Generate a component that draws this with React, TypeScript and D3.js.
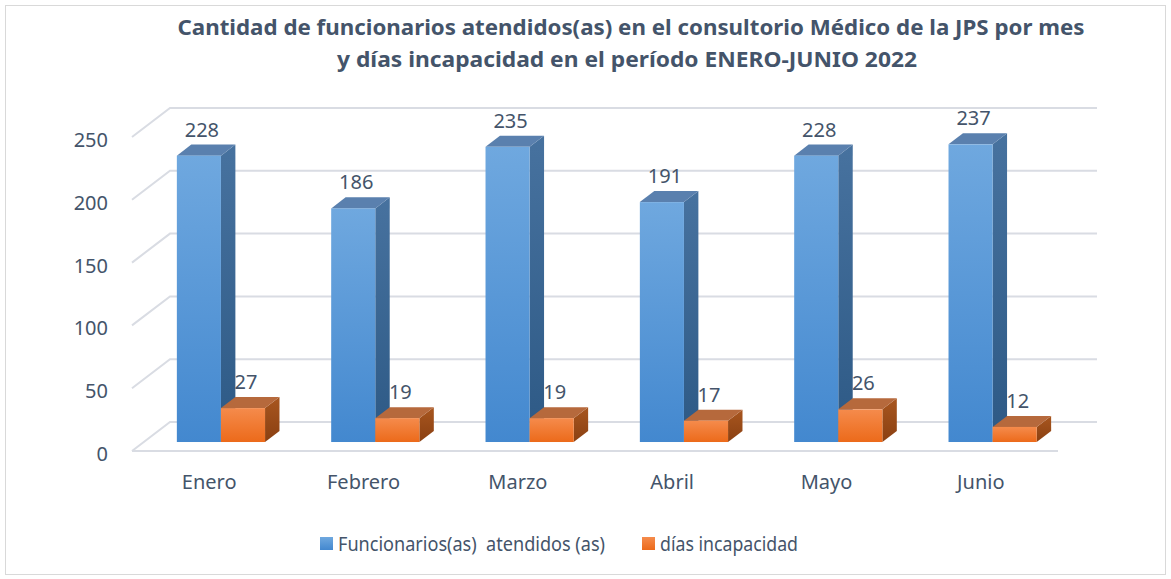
import * as d3 from "d3";

// Chart data
const months = ["Enero", "Febrero", "Marzo", "Abril", "Mayo", "Junio"];
const funcionarios = [228, 186, 235, 191, 228, 237];
const diasIncapacidad = [27, 19, 19, 17, 26, 12];
const yTicks = [0, 50, 100, 150, 200, 250];
const seriesNames = ["Funcionarios(as)  atendidos (as)", "días incapacidad"];
const titleLines = [
  "Cantidad de funcionarios atendidos(as) en el consultorio Médico de la JPS por mes",
  "y días incapacidad en el período ENERO-JUNIO 2022",
];

const W = 1171;
const H = 579;
const FONT = "'Noto Sans', 'Open Sans', sans-serif";
const TEXT = "#44546A";

// 3d floor layout
const frontLeft = 132;
const frontRight = 1058;
const floorFront = 451;
const depthX = 38;
const depthY = 29;
const barFront = 0.31;
const barBack = 0.69;

const colors = [
  { front: ["#6FA8DF", "#4388CF"], side: ["#47729F", "#2D5985"], top: "#5A80AE" },
  { front: ["#F58B4C", "#EC6A1A"], side: ["#A8561F", "#8A4012"], top: "#B6693C" },
];

export default function App() {
  const x = d3.scaleBand<string>().domain(months).range([frontLeft, frontRight]);
  const inner = d3
    .scaleBand<number>()
    .domain([0, 1])
    .range([0, x.bandwidth()])
    .paddingOuter(0.75);
  const y = d3.scaleLinear().domain([0, 250]).range([0, 314]);

  const ddx = (barBack - barFront) * depthX;
  const ddy = (barBack - barFront) * depthY;
  const series = [funcionarios, diasIncapacidad];

  const bars: JSX.Element[] = [];
  months.forEach((m, i) => {
    series.forEach((vals, s) => {
      const v = vals[i];
      const x0 = (x(m) ?? 0) + (inner(s) ?? 0) + barFront * depthX;
      const yb = floorFront - barFront * depthY;
      const w = inner.bandwidth();
      const h = y(v);
      const yt = yb - h;
      const side = [
        [x0 + w, yb],
        [x0 + w, yt],
        [x0 + w + ddx, yt - ddy],
        [x0 + w + ddx, yb - ddy],
      ];
      const top = [
        [x0, yt],
        [x0 + w, yt],
        [x0 + w + ddx, yt - ddy],
        [x0 + ddx, yt - ddy],
      ];
      bars.push(
        <g key={`${m}-${s}`}>
          <polygon points={side.join(" ")} fill={`url(#side${s})`} />
          <polygon points={top.join(" ")} fill={colors[s].top} />
          <rect x={x0} y={yt} width={w} height={h} fill={`url(#front${s})`} />
          <text
            x={x0 + w / 2 + 3}
            y={yt - ddy - 8}
            textAnchor="middle"
            fontSize={20}
            fill={TEXT}
          >
            {v}
          </text>
        </g>
      );
    });
  });

  return (
    <svg
      width={W}
      height={H}
      style={{ position: "absolute", left: 0, top: 0, background: "#fff" }}
      fontFamily={FONT}
    >
      <defs>
        {colors.map((c, s) => (
          <g key={s}>
            <linearGradient id={`front${s}`} x1="0" y1="0" x2="0" y2="1">
              <stop offset="0" stopColor={c.front[0]} />
              <stop offset="1" stopColor={c.front[1]} />
            </linearGradient>
            <linearGradient id={`side${s}`} x1="0" y1="0" x2="0" y2="1">
              <stop offset="0" stopColor={c.side[0]} />
              <stop offset="1" stopColor={c.side[1]} />
            </linearGradient>
          </g>
        ))}
      </defs>
      <rect x={5.5} y={5.5} width={W - 11} height={H - 10} fill="#fff" stroke="#D9D9D9" />

      {titleLines.map((t, i) => (
        <text
          key={i}
          x={631 - (i === 1 ? 4 : 0)}
          y={35 + i * 32}
          textAnchor="middle"
          fontSize={22}
          fontWeight="bold"
          fill={TEXT}
          textLength={i === 0 ? 907 : 580}
          lengthAdjust="spacingAndGlyphs"
        >
          {t}
        </text>
      ))}

      {/* gridlines */}
      {yTicks.map((t) => {
        const yf = floorFront - y(t);
        const yk = floorFront - depthY - y(t);
        return (
          <g key={t}>
            <polyline
              points={`${frontLeft},${yf} ${frontLeft + depthX},${yk} ${frontRight + depthX + 1},${yk}`}
              fill="none"
              stroke="#D9DCE3"
              strokeWidth={2}
            />
            <text x={108} y={yf + 10} textAnchor="end" fontSize={20} fill={TEXT}>
              {t}
            </text>
          </g>
        );
      })}
      <line
        x1={frontLeft}
        x2={frontRight}
        y1={floorFront}
        y2={floorFront}
        stroke="#D9DCE3"
        strokeWidth={2}
      />

      {bars}

      {months.map((m) => (
        <text
          key={m}
          x={(x(m) ?? 0) + x.bandwidth() / 2}
          y={489}
          textAnchor="middle"
          fontSize={20}
          fill={TEXT}
        >
          {m}
        </text>
      ))}

      {/* legend */}
      {seriesNames.map((n, s) => {
        const lx = s === 0 ? 320 : 642;
        return (
          <g key={n}>
            <rect x={lx} y={537} width={13} height={13} fill={`url(#front${s})`} />
            <text
              x={lx + 18}
              y={551}
              fontSize={20}
              fill={TEXT}
              style={{ whiteSpace: "pre" }}
              textLength={s === 0 ? 267 : 138}
              lengthAdjust="spacingAndGlyphs"
            >
              {n}
            </text>
          </g>
        );
      })}
    </svg>
  );
}
